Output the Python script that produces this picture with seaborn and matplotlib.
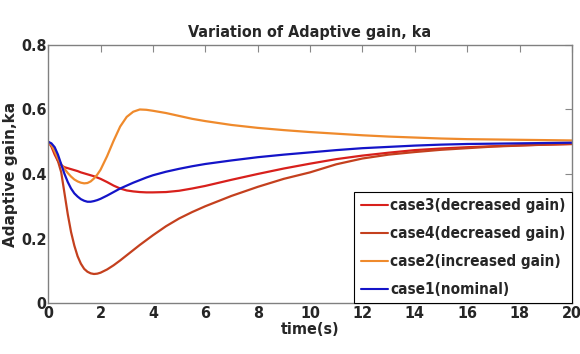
import seaborn as sns
import matplotlib.pyplot as plt
import numpy as np
import pandas as pd

time = [0, 0.125, 0.25, 0.375, 0.5, 0.625, 0.75, 0.875, 1, 1.125, 1.25, 1.375, 1.5,
        1.625, 1.75, 1.875, 2, 2.25, 2.5, 2.75, 3, 3.25, 3.5, 3.75, 4, 4.5, 5, 5.5, 6,
        7, 8, 9, 10, 11, 12, 13, 14, 15, 16, 17, 18, 19, 20]

case1 = [0.500, 0.495, 0.483, 0.460, 0.430, 0.400, 0.375, 0.355, 0.340, 0.330, 0.322,
         0.317, 0.314, 0.314, 0.316, 0.319, 0.323, 0.333, 0.344, 0.355, 0.364, 0.373,
         0.381, 0.389, 0.396, 0.407, 0.416, 0.424, 0.431, 0.442, 0.452, 0.460, 0.467,
         0.474, 0.480, 0.484, 0.488, 0.491, 0.493, 0.494, 0.495, 0.496, 0.497]
case2 = [0.500, 0.490, 0.470, 0.448, 0.430, 0.416, 0.403, 0.392, 0.383, 0.377, 0.373,
         0.371, 0.372, 0.377, 0.386, 0.398, 0.413, 0.455, 0.503, 0.547, 0.577, 0.593,
         0.600, 0.599, 0.596, 0.589, 0.580, 0.571, 0.564, 0.552, 0.543, 0.536, 0.530,
         0.525, 0.520, 0.516, 0.513, 0.510, 0.508, 0.507, 0.506, 0.505, 0.504]
case3 = [0.500, 0.485, 0.460, 0.440, 0.427, 0.421, 0.418, 0.415, 0.412, 0.409, 0.405,
         0.402, 0.399, 0.396, 0.393, 0.389, 0.385, 0.375, 0.364, 0.355, 0.349, 0.346,
         0.344, 0.343, 0.343, 0.344, 0.348, 0.355, 0.363, 0.382, 0.400, 0.417, 0.432,
         0.446, 0.457, 0.466, 0.474, 0.479, 0.483, 0.486, 0.489, 0.491, 0.493]
case4 = [0.500, 0.490, 0.470, 0.440, 0.405, 0.340, 0.275, 0.220, 0.178, 0.145, 0.122,
         0.106, 0.097, 0.092, 0.090, 0.091, 0.094, 0.104, 0.117, 0.132, 0.148, 0.164,
         0.180, 0.195, 0.210, 0.238, 0.262, 0.282, 0.300, 0.332, 0.360, 0.385, 0.405,
         0.430, 0.448, 0.460, 0.468, 0.475, 0.480, 0.485, 0.488, 0.491, 0.493]

labels = ["case3(decreased gain)", "case4(decreased gain)",
          "case2(increased gain)", "case1(nominal)"]
colors = ["#d8201c", "#c4401e", "#ef8a2c", "#1414c8"]

df = pd.concat([
    pd.DataFrame({"t": time, "ka": vals, "case": lab})
    for vals, lab in zip([case3, case4, case2, case1], labels)
])

sns.set_style("white")
plt.rcParams["font.family"] = ["DejaVu Sans"]
cond = dict(family="DejaVu Sans", fontstretch="condensed", fontweight="bold")

fig = plt.figure(figsize=(5.8, 3.54), dpi=100)
ax = fig.add_axes([0.083, 0.144, 0.903, 0.729])

sns.lineplot(data=df, x="t", y="ka", hue="case", hue_order=labels,
             palette=colors, linewidth=1.6, ax=ax, sort=False)

ax.set_xlim(0, 20)
ax.set_ylim(0, 0.8)
ax.set_xticks(range(0, 21, 2))
ax.set_yticks([0, 0.2, 0.4, 0.6, 0.8])
ax.set_yticklabels(["0", "0.2", "0.4", "0.6", "0.8"])
ax.tick_params(direction="in", top=True, right=True, length=5, width=0.8,
               color="#888888", labelsize=11.5, pad=2)
ax.tick_params(axis="y", pad=1)
for lab in ax.get_xticklabels() + ax.get_yticklabels():
    lab.set_fontstretch("condensed")
    lab.set_fontweight("bold")
for sp in ax.spines.values():
    sp.set_color("#808080")
    sp.set_linewidth(1.0)

ax.set_title("Variation of Adaptive gain, ka", fontsize=11.5, pad=6, **cond)
ax.set_xlabel("time(s)", fontsize=11.5, labelpad=1, **cond)
ax.set_ylabel("Adaptive gain,ka", family="DejaVu Sans", fontweight="bold",
              fontsize=11)
ax.yaxis.set_label_coords(-0.058, 0.5)

leg = ax.legend(loc="lower right", borderaxespad=0, fancybox=False, framealpha=1,
                edgecolor="black", handlelength=1.8, handletextpad=0.15,
                borderpad=0.4, labelspacing=0.85,
                prop={"family": "DejaVu Sans", "stretch": "condensed",
                      "weight": "bold", "size": 11})
leg.get_frame().set_linewidth(0.8)
for line in leg.get_lines():
    line.set_linewidth(1.5)

fig.savefig("out.png", dpi=100)
